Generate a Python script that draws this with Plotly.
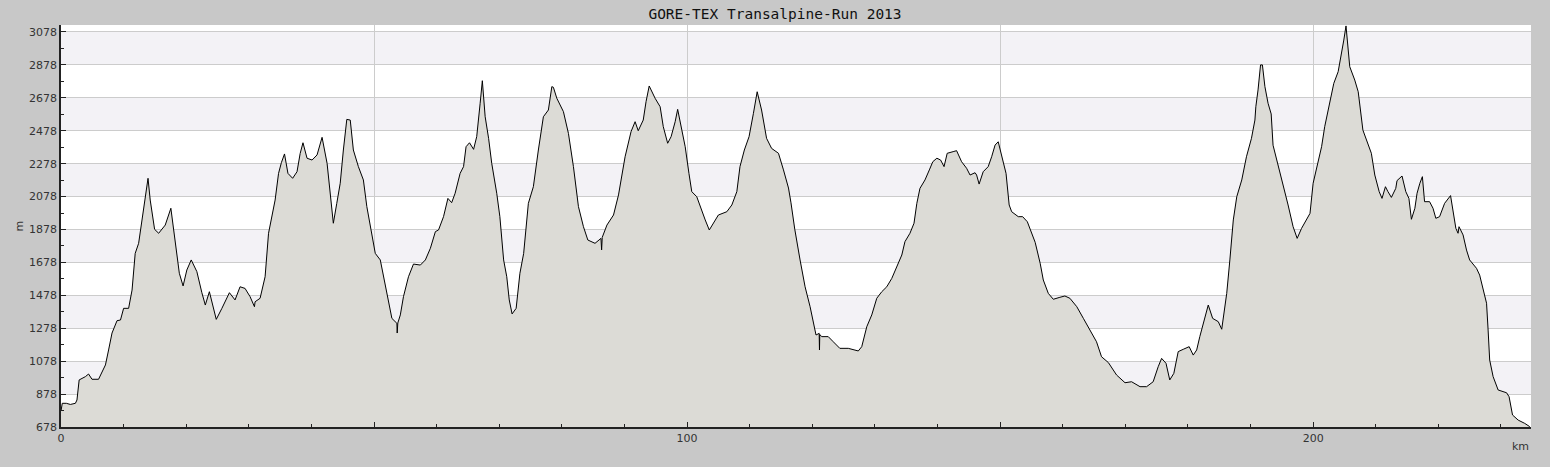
import plotly.graph_objects as go

# distance along the course (km) and elevation (m)
km = [0.0, 0.2, 0.85, 1.5, 2.3, 2.55, 2.9, 3.9, 4.4, 4.95, 6.0, 7.1, 7.6, 8.15, 8.95, 9.5, 10.0, 10.8,
      11.35, 11.85, 12.4, 13.2, 13.9, 14.25, 14.95, 15.6, 16.65, 17.55, 18.25, 18.9, 19.5, 20.1, 20.8,
      21.7, 22.5, 23.05, 23.7, 24.2, 24.8, 25.7, 26.9, 27.8, 28.6, 29.4, 30.2, 30.9, 31.0, 31.8, 32.6,
      33.15, 33.7, 34.2, 34.75, 35.2, 35.7, 36.25, 37.0, 37.7, 38.2, 38.65, 39.3, 40.1, 40.9, 41.7,
      42.5, 43.0, 43.5, 44.05, 44.6, 45.1, 45.65, 46.2, 46.7, 47.5, 48.3, 48.85, 49.4, 50.2, 51.0,
      51.8, 52.3, 52.85, 53.65, 53.7, 53.8, 54.2, 54.7, 55.5, 56.3, 57.4, 58.2, 59.0, 59.8, 60.3,
      61.1, 61.8, 62.4, 62.95, 63.75, 64.3, 64.7, 65.25, 65.9, 66.4, 66.95, 67.3, 67.75, 68.3, 68.8,
      69.6, 70.1, 70.7, 71.2, 71.6, 72.05, 72.7, 73.3, 73.9, 74.65, 75.45, 76.25, 77.05, 77.85, 78.4,
      78.65, 79.2, 80.25, 81.05, 81.85, 82.65, 83.45, 84.15, 85.3, 86.25, 86.35, 86.45, 87.2, 88.25,
      89.05, 90.1, 91.05, 91.7, 92.2, 93.0, 93.45, 93.95, 94.9, 95.7, 96.2, 96.9, 97.45, 98.1, 98.5,
      99.05, 99.7, 100.3, 100.75, 101.55, 102.35, 102.9, 103.55, 104.2, 105.0, 106.35, 107.15,
      107.95, 108.45, 109.15, 109.9, 110.6, 111.2, 111.9, 112.7, 113.5, 114.6, 115.4, 116.2, 116.6,
      117.2, 118.05, 118.85, 119.65, 120.6, 121.1, 121.15, 121.2, 121.5, 122.55, 123.35, 124.4,
      125.75, 127.35, 127.9, 128.7, 129.5, 130.3, 131.1, 131.9, 132.7, 133.5, 134.3, 134.8, 135.6,
      136.25, 136.7, 137.2, 138.0, 138.7, 139.25, 139.9, 140.5, 141.05, 141.55, 142.5, 143.05,
      143.85, 144.65, 145.2, 146.0, 146.25, 146.65, 147.3, 148.1, 148.65, 149.2, 149.7, 150.25,
      150.95, 151.45, 151.85, 152.9, 153.6, 154.35, 155.05, 155.6, 156.4, 156.9, 157.7, 158.5,
      159.55, 160.35, 161.15, 162.25, 163.3, 164.35, 165.4, 166.2, 167.3, 168.6, 169.95, 171.0,
      172.35, 173.4, 174.45, 175.25, 175.8, 176.5, 177.1, 177.75, 178.45, 179.25, 180.2, 180.85,
      181.4, 181.9, 182.45, 183.25, 183.95, 184.85, 185.4, 186.2, 186.7, 187.25, 187.8, 188.6,
      189.35, 190.15, 190.7, 190.85, 191.2, 191.6, 191.9, 192.3, 192.8, 193.3, 193.6, 194.35,
      195.15, 196.0, 196.8, 197.45, 198.15, 198.95, 199.5, 200.0, 200.8, 201.35, 201.85, 202.55,
      203.3, 204.0, 204.55, 204.9, 205.25, 205.85, 206.65, 207.2, 207.95, 208.75, 209.3, 209.85,
      210.55, 211.0, 211.55, 211.95, 212.5, 213.2, 213.4, 214.2, 214.8, 215.3, 215.7, 216.25, 216.6,
      217.05, 217.45, 217.8, 218.6, 219.15, 219.6, 220.2, 221.0, 221.95, 222.35, 222.8, 223.15,
      223.3, 223.95, 224.5, 225.0, 226.1, 226.6, 227.25, 227.7, 227.95, 228.2, 228.75, 229.55,
      230.9, 231.3, 231.85, 232.75, 233.8, 234.6]

elev = [775, 822, 822, 815, 822, 842, 964, 984, 1000, 968, 968, 1055, 1146, 1249, 1324, 1328, 1399, 1399,
        1510, 1733, 1794, 2017, 2189, 2057, 1879, 1855, 1905, 2007, 1814, 1612, 1535, 1632, 1693,
        1622, 1494, 1419, 1500, 1430, 1332, 1399, 1494, 1450, 1530, 1520, 1470, 1409, 1439, 1460, 1591,
        1855, 1966, 2057, 2219, 2284, 2337, 2219, 2189, 2229, 2340, 2405, 2311, 2300, 2331, 2438,
        2280, 2077, 1916, 2037, 2159, 2361, 2547, 2543, 2361, 2260, 2179, 2017, 1895, 1733, 1693,
        1530, 1450, 1338, 1308, 1249, 1310, 1359, 1470, 1591, 1668, 1662, 1693, 1764, 1865, 1875,
        1956, 2067, 2041, 2098, 2219, 2260, 2381, 2405, 2365, 2442, 2645, 2782, 2563, 2432, 2280,
        2098, 1956, 1693, 1591, 1450, 1365, 1399, 1612, 1733, 2037, 2138, 2361, 2563, 2604, 2746,
        2742, 2675, 2594, 2462, 2260, 2017, 1895, 1814, 1794, 1824, 1754, 1830, 1905, 1966,
        2088, 2320, 2472, 2533, 2478, 2543, 2655, 2750, 2675, 2624, 2503, 2402, 2442, 2533, 2608,
        2493, 2381, 2219, 2108, 2077, 1986, 1936, 1875, 1916, 1966, 1986, 2027,
        2108, 2260, 2361, 2442, 2584, 2715, 2604, 2432, 2371, 2341, 2240, 2130, 2040,
        1880, 1693, 1530, 1409, 1237, 1247, 1146, 1240, 1227, 1227, 1196, 1156,
        1156, 1140, 1166, 1287, 1359, 1460, 1500, 1530, 1581, 1652, 1723, 1804, 1855,
        1916, 2037, 2128, 2179, 2240, 2290, 2311, 2300, 2260, 2341, 2351, 2357,
        2290, 2250, 2209, 2223, 2209, 2154, 2229, 2260, 2320, 2391, 2411, 2320,
        2219, 2027, 1986, 1956, 1956, 1925, 1860, 1800, 1673, 1571, 1490, 1454,
        1466, 1474, 1460, 1409, 1338, 1267, 1196, 1105, 1069, 994, 947, 953,
        923, 923, 953, 1044, 1095, 1065, 964, 1004, 1136, 1150, 1166, 1115,
        1146, 1227, 1311, 1419, 1338, 1318, 1272, 1490, 1693, 1936, 2077, 2179,
        2320, 2432, 2543, 2624, 2726, 2878, 2878, 2746, 2645, 2580, 2390, 2280,
        2159, 2027, 1895, 1824, 1885, 1936, 1976, 2159, 2280, 2381, 2503, 2624,
        2766, 2837, 2948, 3029, 3115, 2867, 2786, 2715, 2482, 2402, 2341, 2209,
        2108, 2067, 2138, 2108, 2073, 2128, 2175, 2203, 2108, 2067, 1940, 2007, 2098,
        2159, 2199, 2047, 2047, 2007, 1946, 1956, 2037, 2084, 1976, 1885, 1855,
        1895, 1845, 1753, 1693, 1642, 1601, 1500, 1430, 1267, 1085, 984, 903,
        886, 862, 751, 720, 700, 680]

y_ticks = [678, 878, 1078, 1278, 1478, 1678, 1878, 2078, 2278, 2478, 2678, 2878, 3078]
x_ticks = [0, 50, 100, 150, 200]
x_ticktext = ["0", "", "100", "", "200"]

title = "GORE-TEX Transalpine-Run 2013"

fig = go.Figure()
fig.add_trace(go.Scatter(
    x=km, y=elev, mode="lines", fill="tozeroy",
    fillcolor="#DCDBD6", line=dict(color="#000000", width=1),
    hoverinfo="x+y", showlegend=False,
))

# alternating horizontal bands
for i in range(1, len(y_ticks) - 1, 2):
    fig.add_shape(type="rect", xref="paper", yref="y", x0=0, x1=1,
                  y0=y_ticks[i], y1=y_ticks[i + 1], fillcolor="#F3F2F6",
                  line=dict(width=0), layer="below")

fig.update_layout(
    width=1550, height=467,
    paper_bgcolor="#C8C8C8", plot_bgcolor="#FFFFFF",
    margin=dict(l=61, r=19, t=25, b=40, autoexpand=False),
    title=dict(text=title, x=0.5, xanchor="center", y=1 - 14 / 467, yanchor="middle",
               font=dict(family="DejaVu Sans Mono", size=14.5, color="#111111")),
    font=dict(family="DejaVu Sans", size=11, color="#333333"),
)
fig.update_xaxes(
    range=[0, 234.8], tickvals=x_ticks, ticktext=x_ticktext,
    showgrid=True, gridcolor="#CCCCCC", gridwidth=1,
    showline=True, linecolor="#222222", linewidth=1.5,
    ticks="inside", ticklen=5, tickcolor="#222222",
    minor=dict(dtick=10, ticks="inside", ticklen=3, tickcolor="#222222", showgrid=False),
    zeroline=False, automargin=False, tickfont=dict(size=11, color="#333333"),
)
fig.update_yaxes(
    range=[678, 3120.5], tickvals=y_ticks,
    showgrid=True, gridcolor="#CCCCCC", gridwidth=1,
    showline=True, linecolor="#222222", linewidth=1.5,
    ticks="inside", ticklen=5, tickcolor="#222222",
    minor=dict(tick0=778, dtick=100, ticks="inside", ticklen=3, tickcolor="#222222", showgrid=False),
    zeroline=False, automargin=False, tickfont=dict(size=11, color="#333333"),
)
fig.add_annotation(text="m", xref="paper", yref="paper", x=-51 / 1470, y=0.5,
                   showarrow=False, textangle=-90, font=dict(size=11, color="#333333"))
fig.add_annotation(text="km", xref="paper", yref="paper", x=1, y=-19 / 402,
                   xanchor="right", yanchor="middle", showarrow=False,
                   font=dict(size=11, color="#333333"))

fig.write_html("out.html", config={"displayModeBar": False},
               post_script="document.body.style.margin='0';document.body.style.overflow='hidden';")
